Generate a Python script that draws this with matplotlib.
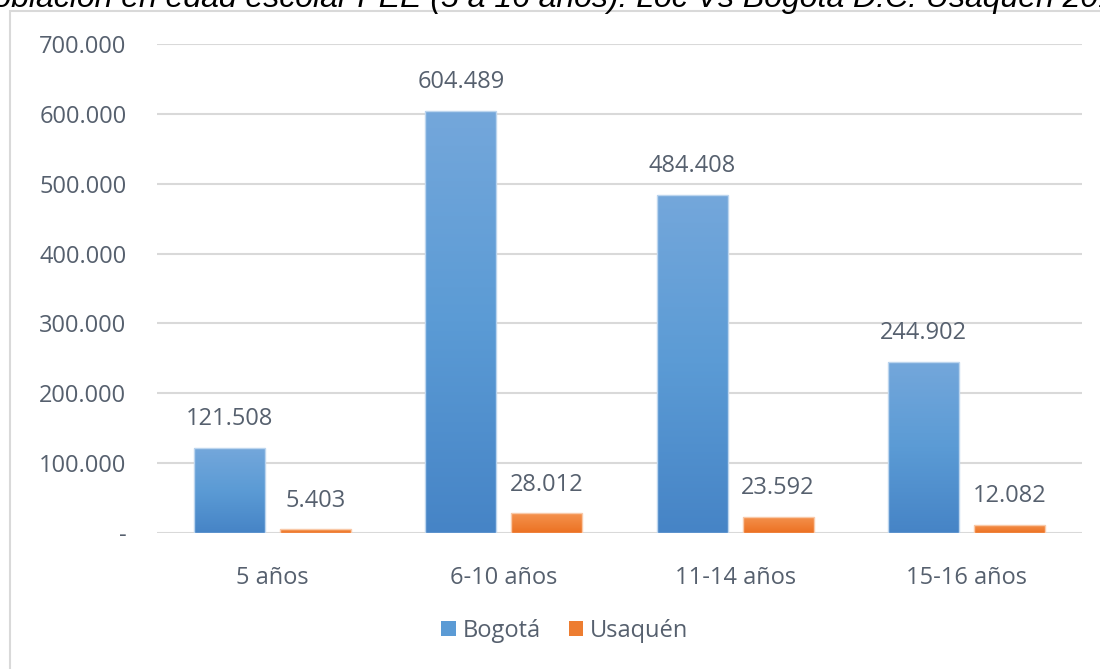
import numpy as np
import matplotlib.pyplot as plt
from matplotlib.colors import LinearSegmentedColormap
from matplotlib.patches import Rectangle

# data
categories = ["5 años", "6-10 años", "11-14 años", "15-16 años"]
bogota = [121508, 604489, 484408, 244902]
usaquen = [5403, 28012, 23592, 12082]
series_names = ["Bogotá", "Usaquén"]
title = "Población en edad escolar PEE (5 a 16 años). Loc Vs Bogotá D.C. Usaquén 2016"

plt.rcParams['font.family'] = ['Open Sans', 'DejaVu Sans']
text_color = '#56606e'


def fmt(v):
    # thousands separator with a dot, like the spanish excel output
    if v == 0:
        return "-"
    return f"{int(v):,}".replace(",", ".")


fig = plt.figure(figsize=(11, 6.69), dpi=100)
ax = fig.add_axes([0.1427, 0.2033, 0.8409, 0.7309])

# chart border (outer frame of the excel chart)
fig.patches.append(Rectangle((10 / 1100, -0.01), 1.1, 1 - 11 / 669 + 0.01,
                             transform=fig.transFigure, fill=False,
                             edgecolor='#d9d9d9', linewidth=1.5))

# cut-off title at the top (the reference only shows its lower part)
fig.text(-0.025, 1.0 - 7 / 669, title, ha='left', va='baseline', fontsize=23,
         style='italic', family='Liberation Sans', color='black')

x = np.arange(len(categories))
width = 0.307
offset = 0.186

blue_cmap = LinearSegmentedColormap.from_list('b', ['#4684c6', '#5b9bd5', '#74a7db'])
orange_cmap = LinearSegmentedColormap.from_list('o', ['#ec7122', '#f08238', '#f4924f'])
grad = np.linspace(0, 1, 256).reshape(-1, 1)

bars_b = ax.bar(x - offset, bogota, width, facecolor='none', edgecolor='#bcd5ee',
                linewidth=1, zorder=3, label=series_names[0])
bars_u = ax.bar(x + offset, usaquen, width, facecolor='none', edgecolor='#f9c9a8',
                linewidth=1, zorder=3, label=series_names[1])

for bars, cmap in [(bars_b, blue_cmap), (bars_u, orange_cmap)]:
    for b in bars:
        x0 = b.get_x()
        h = b.get_height()
        im = ax.imshow(grad, extent=[x0, x0 + b.get_width(), 0, h], origin='lower',
                       aspect='auto', cmap=cmap, zorder=2)
        im.set_clip_path(b)
    for b in bars:
        ax.annotate(fmt(b.get_height()), (b.get_x() + b.get_width() / 2, b.get_height()),
                    xytext=(0, 12), textcoords='offset points', ha='center', va='bottom',
                    fontsize=17, color=text_color)

ax.set_xlim(-0.5, len(categories) - 0.5)
ax.set_ylim(0, 700000)
ax.set_yticks(np.arange(0, 700001, 100000))
ax.set_yticklabels([fmt(v) for v in np.arange(0, 700001, 100000)])
ax.set_xticks(x)
ax.set_xticklabels(categories)

ax.grid(axis='y', color='#d9d9d9', linewidth=1.5, zorder=0)
ax.set_axisbelow(True)
for s in ax.spines.values():
    s.set_visible(False)
ax.tick_params(axis='both', length=0, labelsize=17, labelcolor=text_color)
ax.tick_params(axis='y', pad=22)
ax.tick_params(axis='x', pad=24)

# legend handles as plain squares
h1 = Rectangle((0, 0), 1, 1, facecolor='#5b9bd5')
h2 = Rectangle((0, 0), 1, 1, facecolor='#ed7d31')
fig.legend([h1, h2], series_names, loc='center', bbox_to_anchor=(565 / 1100, 1 - 631 / 669),
           ncol=2, frameon=False, fontsize=17, labelcolor=text_color,
           handlelength=0.6, handleheight=0.6, handletextpad=0.3, columnspacing=1.2)

fig.savefig('out.png', dpi=100)
